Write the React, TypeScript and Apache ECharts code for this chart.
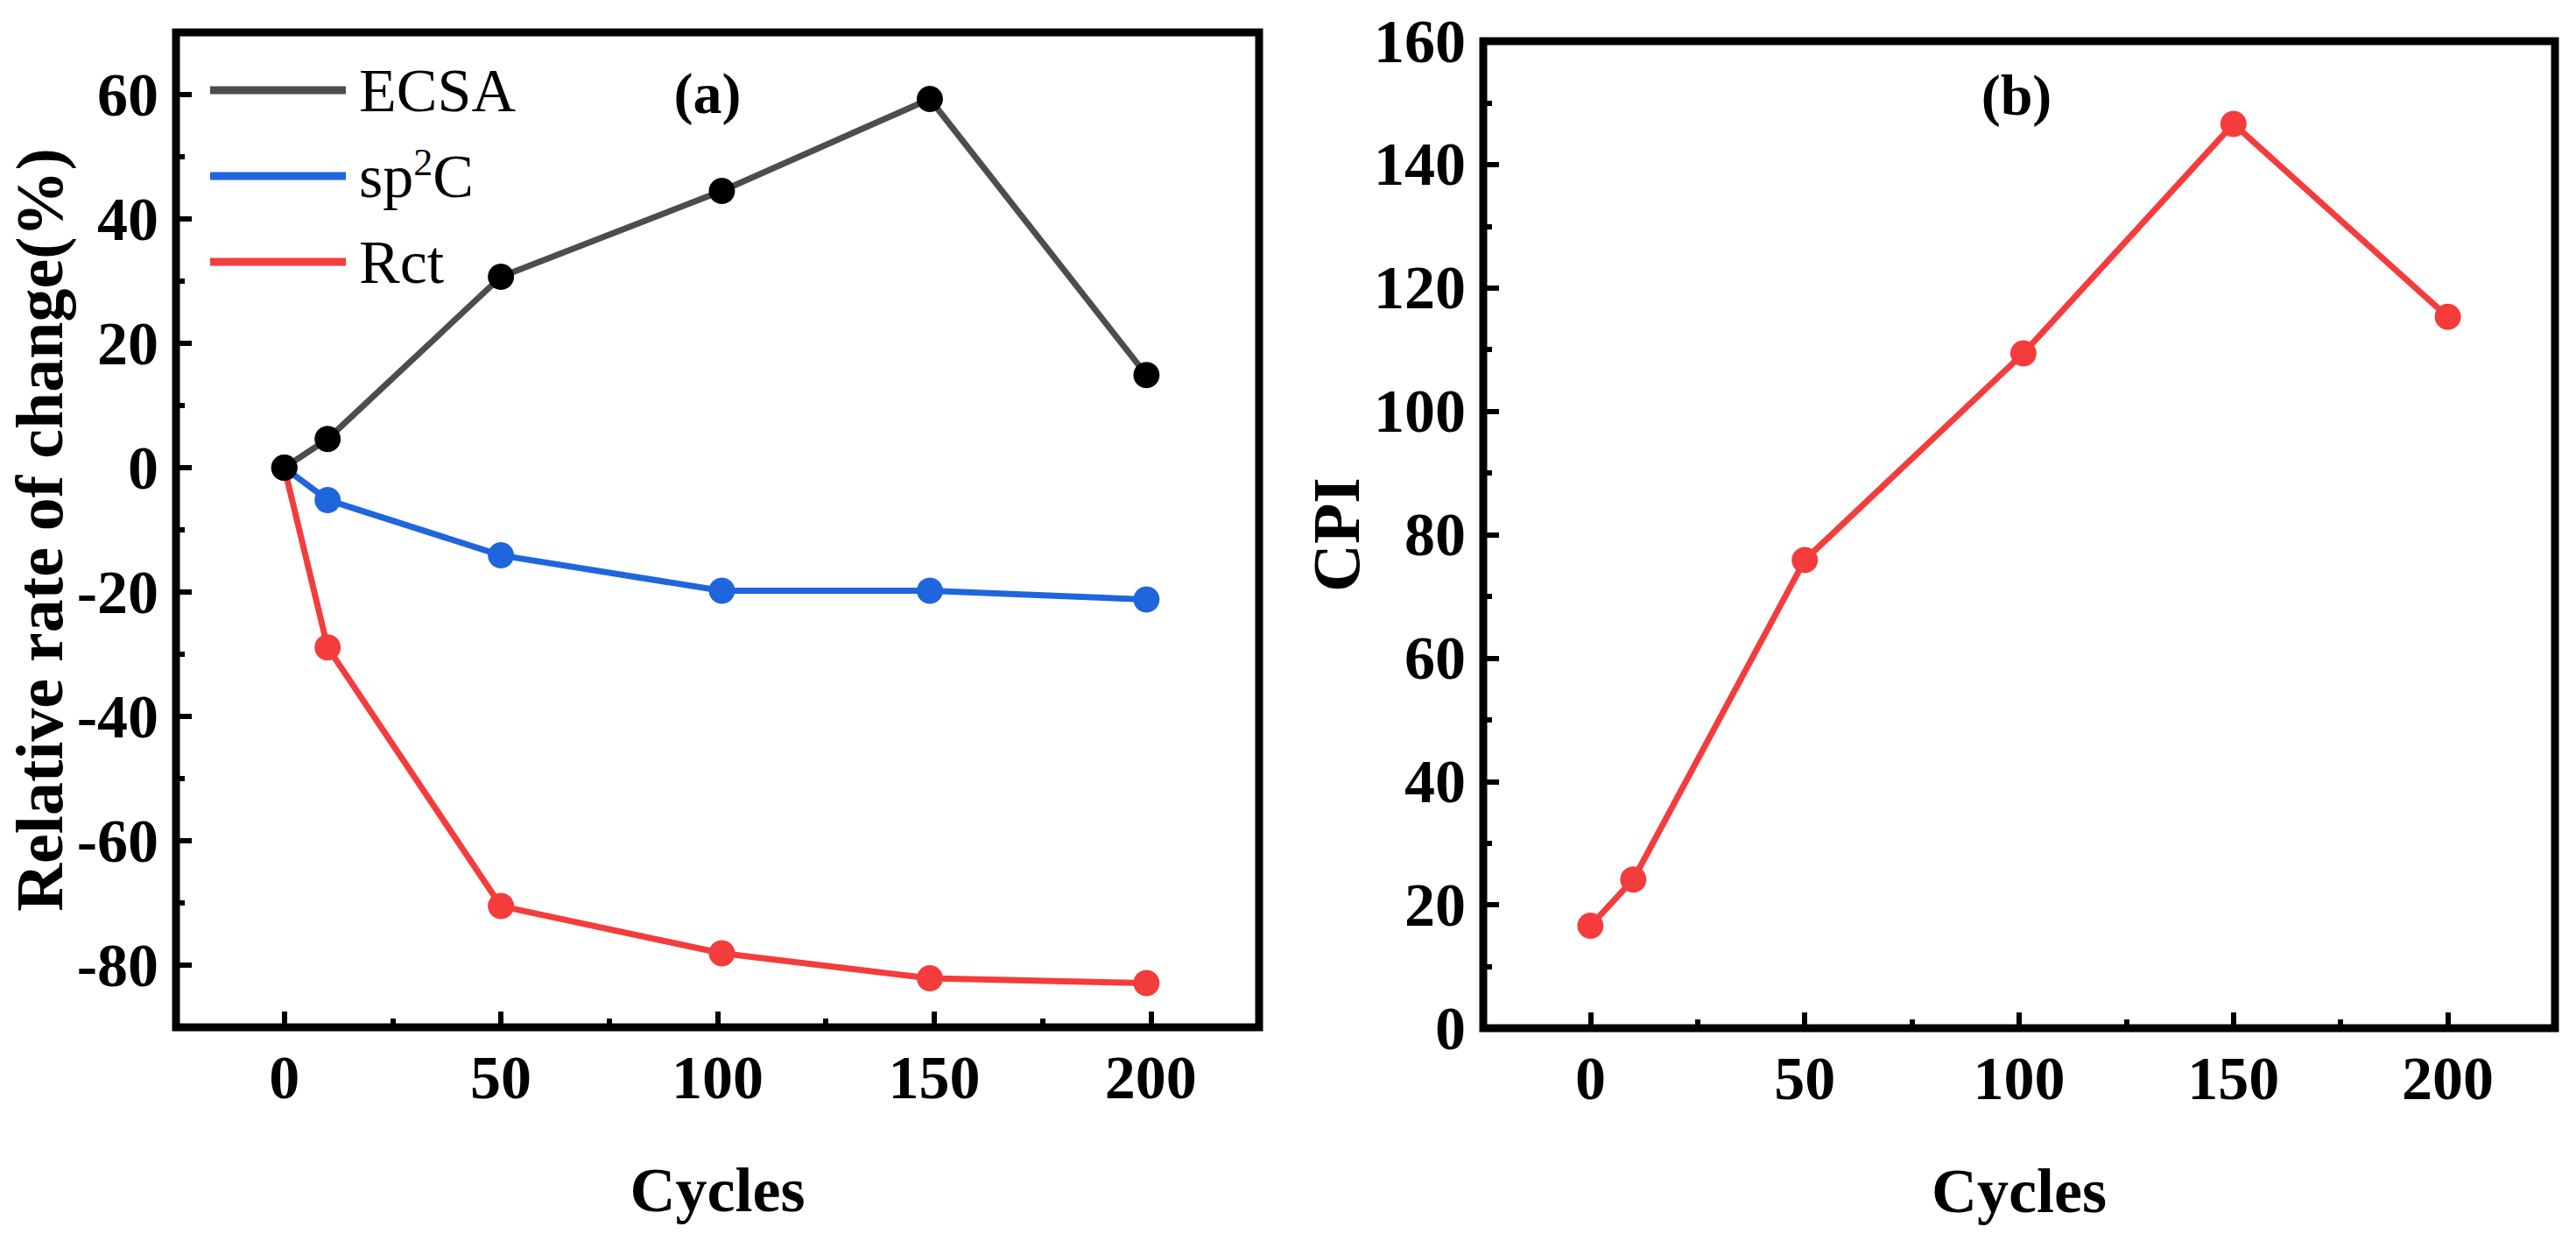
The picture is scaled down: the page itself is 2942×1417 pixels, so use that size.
import React, { useEffect, useRef } from "react";
import * as echarts from "echarts";

const seriesNames = ["ECSA", "sp2C", "Rct"];
const cyclesA = [0, 10, 50, 101, 149, 199];
const ecsa = [0, 4.6, 30.7, 44.5, 59.3, 14.9];
const sp2c = [0, -5.2, -14.1, -19.8, -19.8, -21.2];
const rct = [0, -28.9, -70.5, -78.1, -82.1, -82.9];

const cyclesB = [0, 10, 50, 101, 150, 200];
const cpi = [16.6, 24.1, 75.9, 109.4, 146.6, 115.3];

const xMajor = [0, 50, 100, 150, 200];
const xMinor = [25, 75, 125, 175];
const yMajorA = [-80, -60, -40, -20, 0, 20, 40, 60];
const yMinorA = [-70, -50, -30, -10, 10, 30, 50];
const yMajorB = [0, 20, 40, 60, 80, 100, 120, 140, 160];
const yMinorB = [10, 30, 50, 70, 90, 110, 130, 150];

const FONT = "Liberation Serif";
const GRAY = "#4d4d4d";
const BLUE = "#1f66dd";
const RED = "#f43c3c";

const zip = (xs: number[], ys: number[]) => xs.map((x, i) => [x, ys[i]]);

export default function App() {
  const ref = useRef<HTMLDivElement>(null);
  useEffect(() => {
    if (!ref.current) return;
    const chart = echarts.init(ref.current, undefined, { renderer: "svg" });

    const labelStyle = { fontFamily: FONT, fontWeight: "bold" as const, fontSize: 70, color: "#000" };
    const nameStyle = { fontFamily: FONT, fontWeight: "bold" as const, fontSize: 72, color: "#000" };

    const mkX = (grid: number, main: boolean) => ({
      type: "value",
      gridIndex: grid,
      min: -25,
      max: 225,
      position: "bottom",
      splitLine: { show: false },
      axisLine: { show: false, onZero: false },
      axisLabel: main
        ? { show: true, customValues: xMajor, margin: 22, ...labelStyle }
        : { show: false },
      axisTick: {
        show: true,
        inside: true,
        customValues: main ? xMajor : xMinor,
        length: main ? 18 : 10,
        lineStyle: { color: "#000", width: 6 },
      },
      name: main ? "Cycles" : "",
      nameLocation: "middle",
      nameGap: 150,
      nameTextStyle: nameStyle,
    });

    const mkY = (grid: number, main: boolean, min: number, max: number, major: number[], minor: number[], name: string, gap: number) => ({
      type: "value",
      gridIndex: grid,
      min,
      max,
      position: "left",
      splitLine: { show: false },
      axisLine: { show: false, onZero: false },
      axisLabel: main
        ? { show: true, customValues: major, margin: 20, ...labelStyle }
        : { show: false },
      axisTick: {
        show: true,
        inside: true,
        customValues: main ? major : minor,
        length: main ? 18 : 10,
        lineStyle: { color: "#000", width: 6 },
      },
      name: main ? name : "",
      nameLocation: "middle",
      nameGap: gap,
      nameTextStyle: { ...nameStyle, fontSize: 76 },
    });

    const lineSeries = (name: string, xa: number, ya: number, data: number[][], lineColor: string, dotColor: string, z: number) => ({
      type: "line",
      name,
      xAxisIndex: xa,
      yAxisIndex: ya,
      data,
      symbol: "circle",
      symbolSize: 30,
      itemStyle: { color: dotColor },
      lineStyle: { color: lineColor, width: 7 },
      z,
    });

    chart.setOption({
      animation: false,
      backgroundColor: "#fff",
      grid: [
        { left: 201, top: 37, width: 1237, height: 1136, show: true, borderColor: "#000", borderWidth: 9, backgroundColor: "transparent" },
        { left: 1694, top: 47, width: 1224, height: 1127, show: true, borderColor: "#000", borderWidth: 9, backgroundColor: "transparent" },
      ],
      xAxis: [mkX(0, true), mkX(0, false), mkX(1, true), mkX(1, false)],
      yAxis: [
        mkY(0, true, -90, 70, yMajorA, yMinorA, "Relative rate of change(%)", 118),
        mkY(0, false, -90, 70, yMajorA, yMinorA, "", 0),
        mkY(1, true, 0, 160, yMajorB, yMinorB, "CPI", 130),
        mkY(1, false, 0, 160, yMajorB, yMinorB, "", 0),
      ],
      legend: {
        orient: "vertical",
        left: 235,
        top: 60,
        icon: "rect",
        itemWidth: 155,
        itemHeight: 9,
        itemGap: 22,
        itemStyle: { borderWidth: 0 },
        textStyle: {
          fontFamily: FONT,
          fontSize: 70,
          color: "#000",
          lineHeight: 76,
          padding: [0, 0, 0, 10],
          rich: {
            n: { fontFamily: FONT, fontSize: 70, color: "#000", lineHeight: 76 },
            sup: { fontFamily: FONT, fontSize: 44, color: "#000", lineHeight: 44, verticalAlign: "top" },
          },
        },
        formatter: (name: string) => (name === "sp2C" ? "{n|sp}{sup|2}{n|C}" : name),
        data: [
          { name: seriesNames[0], itemStyle: { color: GRAY } },
          { name: seriesNames[1], itemStyle: { color: BLUE } },
          { name: seriesNames[2], itemStyle: { color: RED } },
        ],
      },
      graphic: [
        { type: "text", x: 808, y: 106, style: { text: "(a)", font: `bold 66px "${FONT}"`, fill: "#000", textAlign: "center", textVerticalAlign: "middle" } },
        { type: "text", x: 2303, y: 108, style: { text: "(b)", font: `bold 66px "${FONT}"`, fill: "#000", textAlign: "center", textVerticalAlign: "middle" } },
      ],
      series: [
        lineSeries(seriesNames[2], 0, 0, zip(cyclesA, rct), RED, RED, 2),
        lineSeries(seriesNames[1], 0, 0, zip(cyclesA, sp2c), BLUE, BLUE, 3),
        lineSeries(seriesNames[0], 0, 0, zip(cyclesA, ecsa), GRAY, "#000", 4),
        lineSeries("CPI", 2, 2, zip(cyclesB, cpi), RED, RED, 2),
      ],
    });
    return () => chart.dispose();
  }, []);
  return <div ref={ref} style={{ position: "fixed", left: 0, top: 0, width: 2942, height: 1417 }} />;
}
